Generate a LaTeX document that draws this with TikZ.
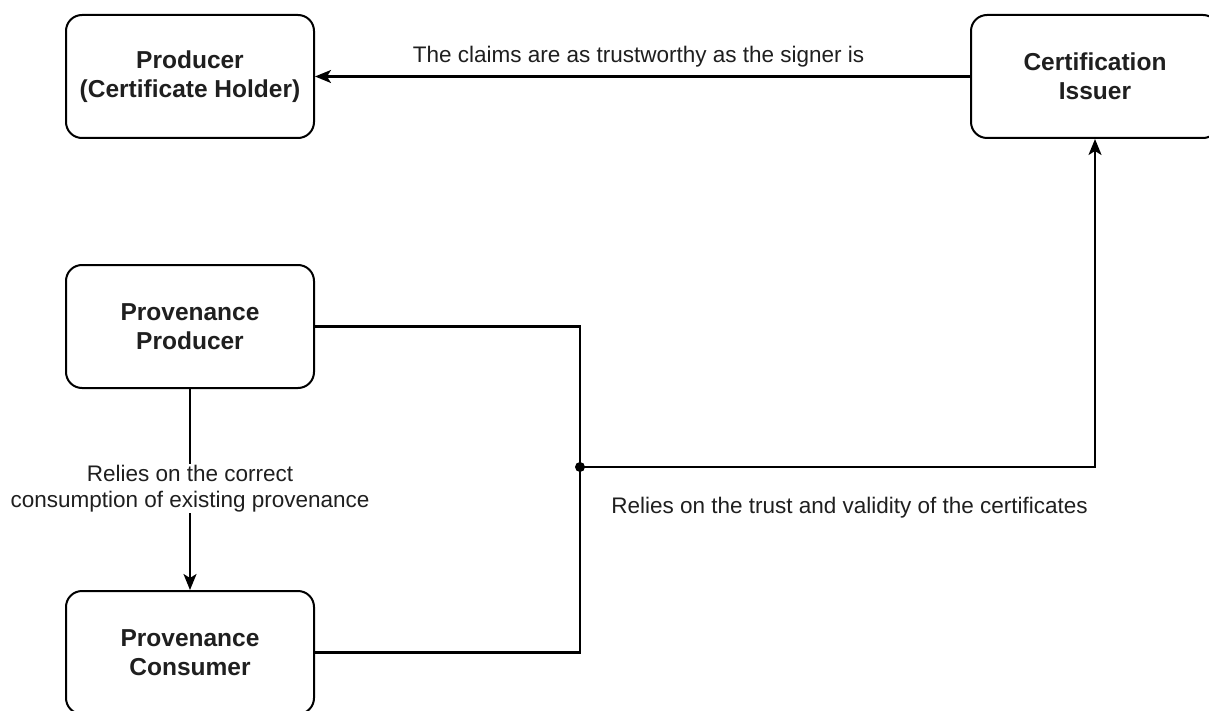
\documentclass[tikz,border=0pt]{standalone}
\usepackage{fontspec}
\setmainfont{Liberation Sans}
\usetikzlibrary{arrows.meta}
\begin{document}
\begin{tikzpicture}[x=1pt,y=-1pt,
  box/.style={draw, line width=2pt, rounded corners=16pt, minimum width=248pt,
    minimum height=123pt, align=center, text=black!88,
    font=\fontsize{24.5}{29}\selectfont\bfseries, inner sep=0pt},
  wire/.style={line width=2.1pt},
  arr/.style={wire, -{Stealth[length=16pt,width=13pt,inset=4pt]}},
  lbl/.style={font=\fontsize{22.5}{26.5}\selectfont, text=black!88, align=center}]
  \useasboundingbox (0,0) rectangle (1209,711);
  \fill[white] (0,0) rectangle (1209,711);

  % parties
  \node[box] (holder) at (190,76.5) {Producer\\(Certificate Holder)};
  \node[box] (issuer) at (1095,76.5) {Certification\\Issuer};
  \node[box] (pprod)  at (190,326.5) {Provenance\\Producer};
  \node[box] (pcons)  at (190,652.5) {Provenance\\Consumer};

  % junction where both provenance roles meet
  \coordinate (j) at (580,467);

  % trust relations
  \draw[arr] (issuer.west) -- (holder.east)
    node[lbl, midway, above=5pt, xshift=-4pt] (claims) {The claims are as trustworthy as the signer is};
  \draw[arr] (pprod.south) -- (pcons.north)
    node[lbl, pos=0.495, fill=white, inner sep=1pt] (consume)
      {Relies on the correct\\consumption of existing provenance};
  \draw[wire] (pprod.east) -| (j) |- (pcons.east);
  \draw[arr] (j) -| (issuer.south)
    node[lbl, pos=0.25, xshift=12pt, below=26pt] (certs) {Relies on the trust and validity of the certificates};
  \fill (j) circle (5pt);
\end{tikzpicture}
\end{document}
